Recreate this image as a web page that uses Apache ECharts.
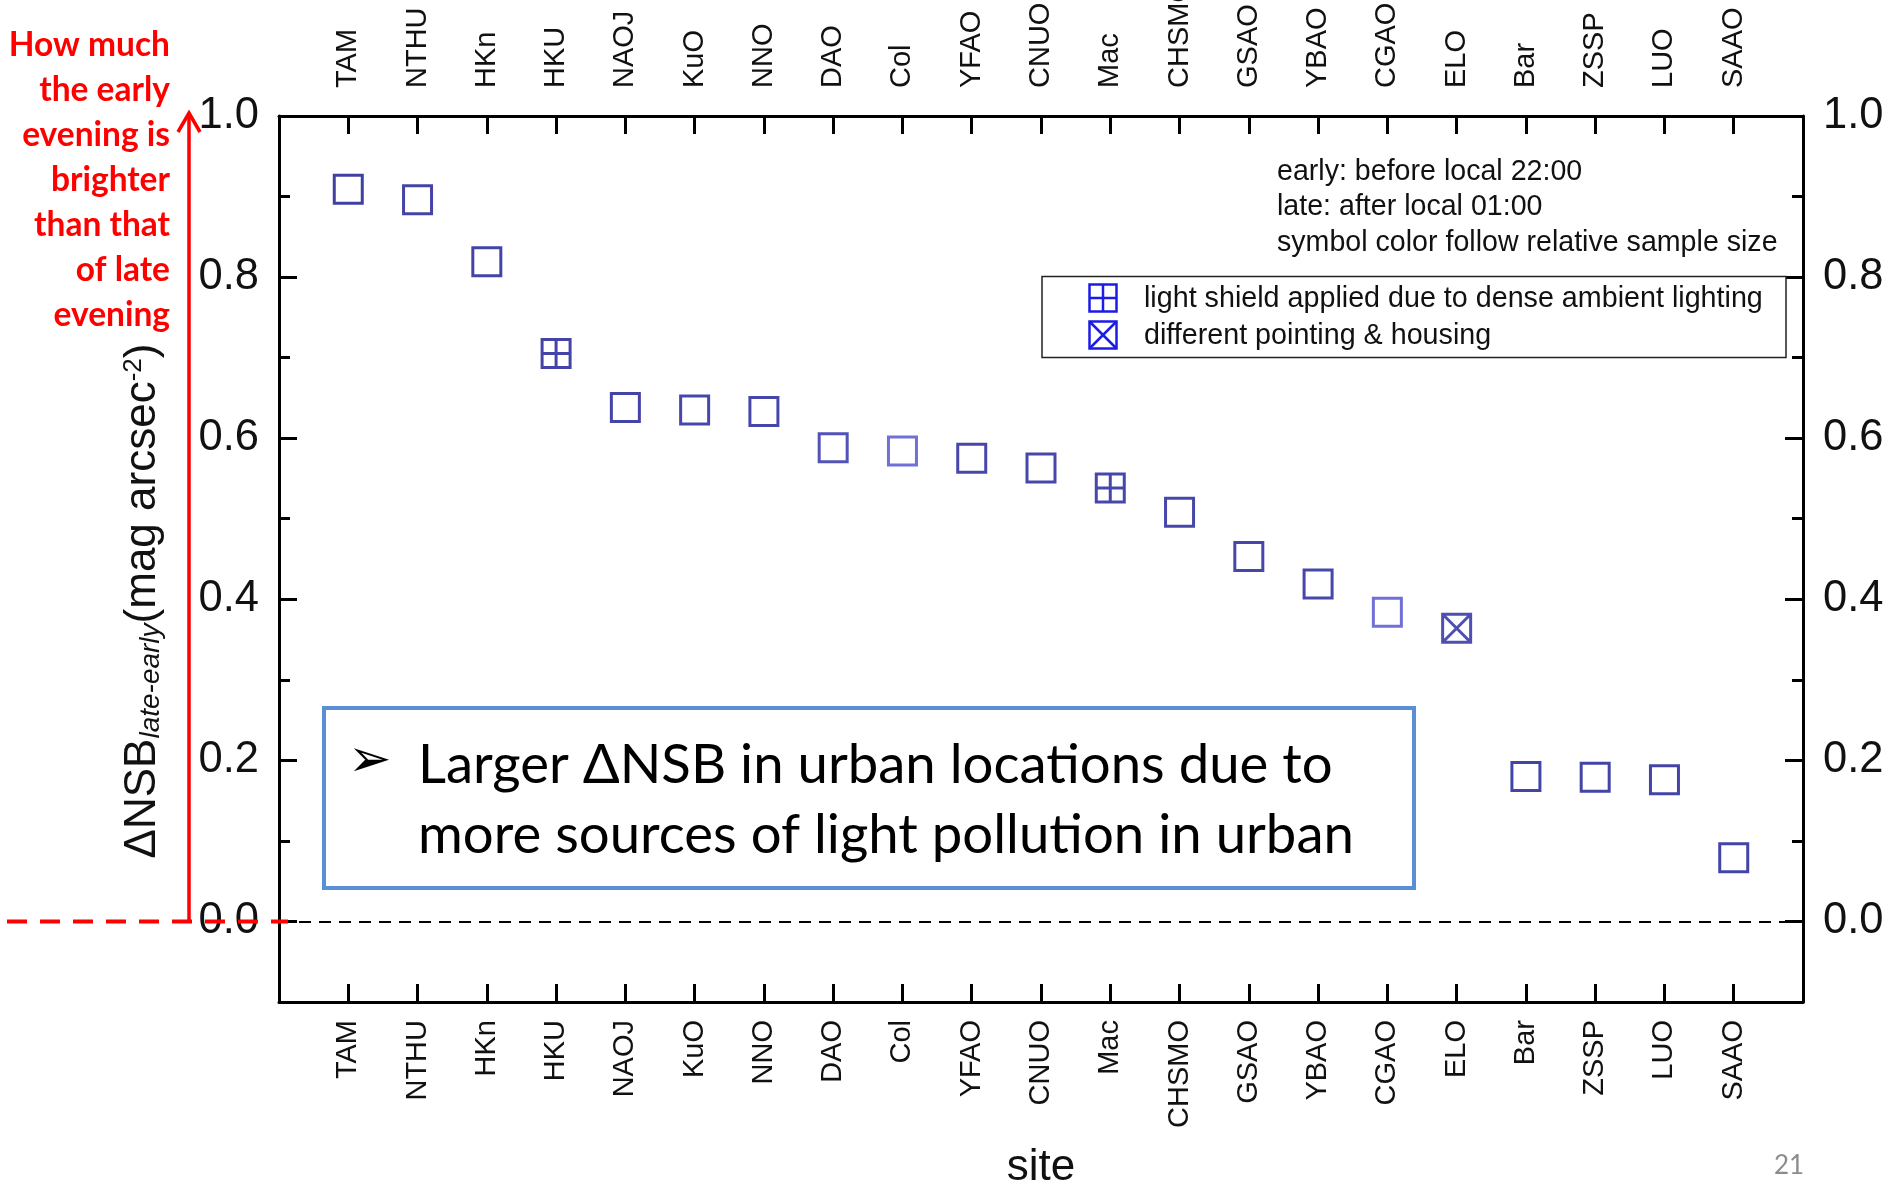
<!DOCTYPE html>
<html><head><meta charset="utf-8">
<script src="https://cdn.jsdelivr.net/npm/echarts@6/dist/echarts.min.js"></script>
<style>html,body{margin:0;padding:0;background:#fff}#c{width:1895px;height:1183px}</style>
</head><body><div id="c"></div>
<script>
// ---------------- data ----------------
const sites = ['TAM','NTHU','HKn','HKU','NAOJ','KuO','NNO','DAO','Col','YFAO','CNUO','Mac','CHSMO','GSAO','YBAO','CGAO','ELO','Bar','ZSSP','LUO','SAAO'];
const deltaNSB = [0.909,0.896,0.819,0.705,0.638,0.635,0.633,0.588,0.584,0.575,0.563,0.538,0.508,0.453,0.419,0.384,0.364,0.180,0.179,0.176,0.079];
const setupType = ['plain','plain','plain','shield','plain','plain','plain','plain','plain','plain','plain','shield','plain','plain','plain','plain','pointing','plain','plain','plain','plain'];
const relSampleSize = [1,0.95,0.95,0.95,0.95,0.9,0.9,0.75,0.35,0.9,0.9,0.9,0.9,0.9,0.9,0.35,0.8,0.95,0.95,0.95,0.95];
const yMajorTicks = [0,0.2,0.4,0.6,0.8,1.0];
const yMinorTicks = [0.1,0.3,0.5,0.7,0.9];
const noteLines = ['early: before local 22:00','late: after local 01:00','symbol color follow relative sample size'];
const legendLabels = ['light shield applied due to dense ambient lighting','different pointing & housing'];
const redNote = ['How much','the early','evening is','brighter','than that','of late','evening'];
const boxLines = ['Larger \u0394NSB in urban locations due to','more sources of light pollution in urban'];
const pageNo = '21';

// ---------------- style ----------------
const FONT = '"Liberation Sans", Arial, sans-serif';
const SYM = {
  plain: 'path://M0,0H10V10H0Z',
  shield: 'path://M0,0H10V10H0ZM5,0V10M0,5H10',
  pointing: 'path://M0,0H10V10H0ZM0,0L10,10M10,0L0,10'
};
function shade(r){
  const a=[0x6c,0x6c,0xf0], b=[0x10,0x10,0x8c];
  const c=a.map((v,i)=>Math.round(v+(b[i]-v)*r));
  return 'rgb('+c.join(',')+')';
}
const chart = echarts.init(document.getElementById('c'), null, {renderer:'canvas'});

function xAx(pos, margin, rot){
  return {type:'value', position:pos, min:0, max:sites.length+1, interval:1,
    axisLine:{show:true,onZero:false,lineStyle:{color:'#000',width:3}},
    axisTick:{show:true,inside:true,length:18,lineStyle:{color:'#000',width:3}},
    axisLabel:{show:true,rotate:rot,margin:margin,fontSize:29,fontFamily:FONT,color:'#111',
      formatter:v=>sites[Math.round(v)-1]||''},
    splitLine:{show:false}};
}
function yAx(pos, major){
  return {type:'value', position:pos, min:-0.1, max:1.0,
    axisLine:{show:major,onZero:false,lineStyle:{color:'#000',width:3}},
    axisTick:{show:true,inside:true,length:major?18:11,customValues:major?yMajorTicks:yMinorTicks,
      lineStyle:{color:'#000',width:3}},
    axisLabel:{show:major,customValues:yMajorTicks,margin:20,fontSize:43.5,fontFamily:FONT,color:'#111',
      formatter:v=>v.toFixed(1)},
    splitLine:{show:false}};
}

const data = sites.map((s,i)=>({
  name:s, value:[i+1, deltaNSB[i]], symbol:SYM[setupType[i]],
  itemStyle:{color:'rgba(0,0,0,0)', borderColor:shade(relSampleSize[i]), borderWidth:3}
}));

const xb = xAx('bottom',18,90);
xb.name='site'; xb.nameLocation='middle'; xb.nameGap=144;
xb.nameTextStyle={fontSize:44,fontFamily:FONT,color:'#111'};

chart.setOption({
  animation:false,
  backgroundColor:'#fff',
  grid:{left:279, top:116, width:1524, height:886, containLabel:false, outerBoundsMode:'none'},
  xAxis:[xb, xAx('top',28,-90)],
  yAxis:[yAx('left',true), yAx('right',true), yAx('left',false), yAx('right',false)],
  series:[{
    type:'scatter', xAxisIndex:0, yAxisIndex:0, symbolSize:28, data:data, clip:false,
    markLine:{silent:true, symbol:['none','none'], label:{show:false},
      lineStyle:{type:[12,8], color:'#000', width:1.8}, data:[{yAxis:0}]}
  }]
});

const y0 = chart.convertToPixel({yAxisIndex:0}, 0);
const y1 = chart.convertToPixel({yAxisIndex:0}, 1.0);
const ax = 189;

const g = [];
// red annotation
g.push({type:'line', shape:{x1:7, y1:y0, x2:288, y2:y0}, style:{stroke:'#ff0000', lineWidth:4, lineDash:[20,13]}, z:10});
g.push({type:'line', shape:{x1:ax, y1:y0, x2:ax, y2:y1-2}, style:{stroke:'#ff0000', lineWidth:3.5}, z:10});
g.push({type:'polyline', shape:{points:[[ax-11,y1+16],[ax,y1-3],[ax+11,y1+16]]}, style:{stroke:'#ff0000', lineWidth:3.5, fill:null}, z:10});
g.push({type:'text', x:170, y:23, z:10, style:{text:redNote.join('\n'), font:'bold 33.5px Lato', fill:'#ff0000',
  align:'right', textAlign:'right', verticalAlign:'top', textVerticalAlign:'top', lineHeight:45}});
// y axis name
g.push({type:'text', x:143, y:601, rotation:Math.PI/2, z:10, style:{
  text:'{a|\u0394NSB}{b|late-early}{a|(mag arcsec}{c|-2}{a|)}',
  align:'center', textAlign:'center', verticalAlign:'middle', textVerticalAlign:'middle',
  rich:{
    a:{fontSize:44, fontFamily:FONT, fill:'#111', lineHeight:44, verticalAlign:'top', padding:[0,0,11,0]},
    b:{fontSize:28, fontFamily:FONT, fontStyle:'italic', fill:'#111', lineHeight:28, verticalAlign:'bottom'},
    c:{fontSize:26, fontFamily:FONT, fill:'#111', lineHeight:26, verticalAlign:'top'}
  }}});
// notes
const noteY=[172,207.5,243];
noteLines.forEach((t,i)=>g.push({type:'text', x:1277, y:noteY[i], z:10, style:{text:t, font:'28.6px '+FONT, fill:'#111',
  align:'left', textAlign:'left', verticalAlign:'middle', textVerticalAlign:'middle'}}));
// legend box
g.push({type:'rect', shape:{x:1042, y:276.5, width:744, height:81}, style:{stroke:'#222', lineWidth:1.5, fill:'#fff'}, z:9});
const legY=[298,335], lx=1103, hs=13.5, lc='#1c1ce6';
legY.forEach((cy,i)=>{
  g.push({type:'rect', shape:{x:lx-hs, y:cy-hs, width:2*hs, height:2*hs}, style:{stroke:lc, lineWidth:2.5, fill:null}, z:10});
  if(i===0){
    g.push({type:'line', shape:{x1:lx, y1:cy-hs, x2:lx, y2:cy+hs}, style:{stroke:lc, lineWidth:2.5}, z:10});
    g.push({type:'line', shape:{x1:lx-hs, y1:cy, x2:lx+hs, y2:cy}, style:{stroke:lc, lineWidth:2.5}, z:10});
  } else {
    g.push({type:'line', shape:{x1:lx-hs, y1:cy-hs, x2:lx+hs, y2:cy+hs}, style:{stroke:lc, lineWidth:2.5}, z:10});
    g.push({type:'line', shape:{x1:lx+hs, y1:cy-hs, x2:lx-hs, y2:cy+hs}, style:{stroke:lc, lineWidth:2.5}, z:10});
  }
  g.push({type:'text', x:1144, y:cy+1.5, z:10, style:{text:legendLabels[i], font:'28.7px '+FONT, fill:'#111',
    align:'left', textAlign:'left', verticalAlign:'middle', textVerticalAlign:'middle'}});
});
// conclusion box
g.push({type:'rect', shape:{x:324, y:708, width:1090, height:180}, style:{stroke:'#5B8FD5', lineWidth:4, fill:'#fff'}, z:9});
g.push({type:'text', x:348, y:762, z:10, style:{text:'\u27A2', font:'52px "DejaVu Sans"', fill:'#000',
  align:'left', textAlign:'left', verticalAlign:'middle', textVerticalAlign:'middle'}});
g.push({type:'text', x:418, y:730, z:10, style:{text:boxLines.join('\n'), font:'54.5px Lato', fill:'#000',
  align:'left', textAlign:'left', verticalAlign:'top', textVerticalAlign:'top', lineHeight:70}});
// page number
g.push({type:'text', x:1789, y:1166, z:10, style:{text:pageNo, font:'26px Lato', fill:'#8c8c8c',
  align:'center', textAlign:'center', verticalAlign:'middle', textVerticalAlign:'middle'}});

chart.setOption({graphic:{elements:g}});
</script>
</body></html>
